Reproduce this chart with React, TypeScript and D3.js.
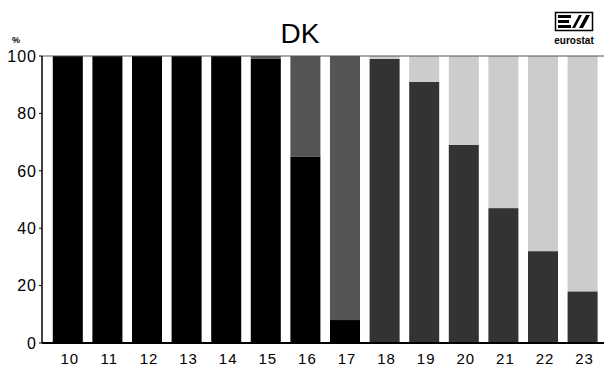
import React from "react";
import * as d3 from "d3";

const categories = ["10", "11", "12", "13", "14", "15", "16", "17", "18", "19", "20", "21", "22", "23"];
const blackSeries = [100, 100, 100, 100, 100, 99, 65, 8, 0, 0, 0, 0, 0, 0];
const mediumSeries = [0, 0, 0, 0, 0, 1, 35, 92, 0, 0, 0, 0, 0, 0];
const darkSeries = [0, 0, 0, 0, 0, 0, 0, 0, 99, 91, 69, 47, 32, 18];
const lightSeries = [0, 0, 0, 0, 0, 0, 0, 0, 1, 9, 31, 53, 68, 82];
const yTicks = [0, 20, 40, 60, 80, 100];

const seriesKeys = ["black", "medium", "dark", "light"];
const colors: Record<string, string> = {
  black: "#000000",
  medium: "#555555",
  dark: "#333333",
  light: "#cccccc",
};

export default function App() {
  const W = 606, H = 374;
  const left = 42, top = 56, bottom = 343, right = 604;
  const x = d3.scaleBand<string>().domain(categories).range([48, 48 + 14 * 39.6]).paddingInner(0.242).paddingOuter(0.121);
  const y = d3.scaleLinear().domain([0, 100]).range([bottom, top]);
  const rows = categories.map((c, i) => ({
    cat: c,
    black: blackSeries[i],
    medium: mediumSeries[i],
    dark: darkSeries[i],
    light: lightSeries[i],
  }));
  const stacked = d3.stack<any>().keys(seriesKeys)(rows);
  const font = "Liberation Sans, Arial, sans-serif";

  return (
    <svg width={W} height={H} style={{ position: "absolute", left: 0, top: 0 }}>
      <rect width={W} height={H} fill="#fff" />
      <text x={300} y={43} fontFamily={font} fontSize={28} textAnchor="middle">DK</text>
      <text x={16} y={43} fontFamily={font} fontSize={9} fontWeight="bold" textAnchor="middle">%</text>
      {/* logo */}
      <g>
        <rect x={555.5} y={12.5} width={37} height={18} fill="none" stroke="#000" strokeWidth={1.5} />
        <rect x={558} y={15} width={13} height={3} fill="#000" />
        <rect x={558} y={20} width={11} height={3} fill="#000" />
        <rect x={558} y={25} width={13} height={3} fill="#000" />
        <path d="M572,28 L579,15 L582,15 L575,28 Z" fill="#000" />
        <path d="M579,28 L586,15 L590,15 L583,28 Z" fill="#000" />
        <text x={574} y={44} fontFamily={font} fontSize={10} fontWeight="bold" textAnchor="middle">eurostat</text>
      </g>
      {stacked.map((s) => (
        <g key={s.key} fill={colors[s.key]}>
          {s.map((d, i) =>
            d[1] - d[0] > 0 ? (
              <rect key={i} x={x(categories[i])} y={y(d[1])} width={x.bandwidth()} height={y(d[0]) - y(d[1])} />
            ) : null
          )}
        </g>
      ))}
      <line x1={left} x2={right} y1={top} y2={top} stroke="#555" strokeWidth={1} />
      <line x1={left} x2={left} y1={top} y2={bottom} stroke="#000" strokeWidth={1.5} />
      <line x1={left} x2={right} y1={bottom} y2={bottom} stroke="#000" strokeWidth={2} />
      {yTicks.map((t) => (
        <g key={t}>
          <line x1={left - 3} x2={left} y1={y(t)} y2={y(t)} stroke="#000" strokeWidth={1} />
          <text x={37} y={y(t)} dy="0.36em" fontFamily={font} fontSize={16} letterSpacing={1} textAnchor="end">{t}</text>
        </g>
      ))}
      {categories.map((c) => (
        <text key={c} x={(x(c) as number) + x.bandwidth() / 2 + 2} y={364} fontFamily={font} fontSize={15} letterSpacing={1} textAnchor="middle">{c}</text>
      ))}
    </svg>
  );
}
